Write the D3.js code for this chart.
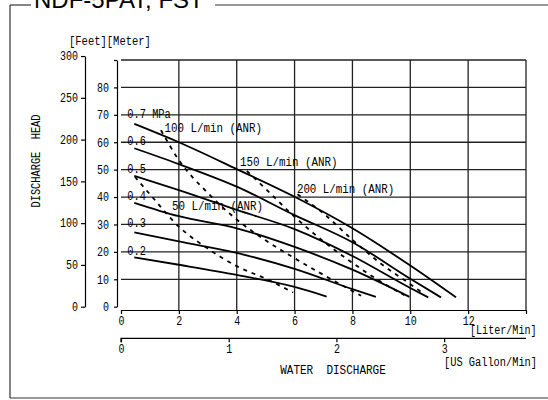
<!DOCTYPE html>
<html>
<head>
<meta charset="utf-8">
<script src="https://cdn.jsdelivr.net/npm/d3@7"></script>
<style>
  html, body { margin: 0; padding: 0; background: #fff; }
  svg { display: block; }
  text { font-family: "Liberation Mono", "DejaVu Sans Mono", monospace; fill: #000; white-space: pre; }
</style>
</head>
<body>
<svg id="chart"></svg>
<script>
// ---- pump curve data (flow L/min, head m) ----
var pressureNames = ["0.7 MPa", "0.6", "0.5", "0.4", "0.3", "0.2"];
var pressureHeads = [70, 60, 50, 40, 30, 20];

var flow07 = [0.46, 2, 4, 6, 8, 10, 11.58];
var head07 = [66.7, 60.0, 50.2, 40.1, 28.6, 15.0, 3.4];
var flow06 = [0.46, 2, 4, 6, 8, 10, 11.06];
var head06 = [57.8, 52.0, 43.8, 33.4, 23.5, 10.2, 3.4];
var flow05 = [0.46, 2, 4, 6, 8, 10, 10.62];
var head05 = [47.7, 42.5, 35.3, 28.3, 18.5, 6.8, 3.4];
var flow04 = [0.46, 2, 4, 6, 8, 9.97];
var head04 = [37.9, 33.0, 28.6, 21.8, 13.5, 3.6];
var flow03 = [0.46, 2, 4, 6, 8, 8.81];
var head03 = [27.1, 23.8, 19.6, 13.8, 6.4, 3.6];
var flow02 = [0.46, 2, 4, 6, 7.11];
var head02 = [18.0, 15.3, 11.6, 7.2, 3.7];

// air consumption (dashed)
var airNames = ["50 L/min (ANR)", "100 L/min (ANR)", "150 L/min (ANR)", "200 L/min (ANR)"];
var flowAir50 = [0.48, 1, 2, 3, 4, 5, 5.95];
var headAir50 = [47.4, 41.0, 29.2, 21.2, 14.8, 10.2, 5.2];
var flowAir100 = [1.38, 2, 3, 4, 5, 6, 7, 8.3];
var headAir100 = [64.4, 53.5, 41.5, 31.8, 24.2, 17.7, 11.6, 4.0];
var flowAir150 = [4.35, 5, 6, 7, 8, 9, 9.8];
var headAir150 = [49.5, 43.0, 32.8, 23.8, 16.0, 9.0, 4.2];
var flowAir200 = [6.1, 7, 8, 9, 10, 10.5];
var headAir200 = [41.0, 34.0, 24.4, 15.6, 8.2, 4.5];

// axis ticks
var literTicks = [0, 2, 4, 6, 8, 10, 12, 14];
var meterTicks = [0, 10, 20, 30, 40, 50, 60, 70, 80, 90];
var feetTicks = [0, 50, 100, 150, 200, 250, 300];
var gallonTicks = [0, 1, 2, 3];

var width = 548,
    height = 400;

var svg = d3.select("#chart").attr("width", width).attr("height", height);

// scales
var x = d3.scaleLinear().domain([0, 14]).range([121, 526]);
var y = d3.scaleLinear().domain([0, 90]).range([306.7, 60]);
var yFt = d3.scaleLinear().domain([0, 300]).range([y(0), y(300 / 3.2808)]);
var xGal = d3.scaleLinear().domain([0, 3.76]).range([121, 526]);

// squeeze monospace text so it looks like the narrow original font
function fit(sel, cw) {
  sel.each(function () {
    var t = d3.select(this);
    var s = t.text();
    if (s) t.attr("textLength", s.length * cw).attr("lengthAdjust", "spacingAndGlyphs");
  });
}

function label(txt, px, py, anchor, cw, size) {
  var t = svg.append("text")
    .attr("x", px).attr("y", py)
    .attr("text-anchor", anchor || "start")
    .attr("dominant-baseline", "central")
    .style("font-size", (size || 12) + "px")
    .text(txt);
  fit(t, cw || 6.2);
  return t;
}

// frame + title
var frame = svg.append("g").attr("stroke", "#333").attr("stroke-width", 1.2);
frame.append("line").attr("x1", 10).attr("y1", 5).attr("x2", 10).attr("y2", 398);
frame.append("line").attr("x1", 10).attr("y1", 398).attr("x2", width).attr("y2", 398);
frame.append("line").attr("x1", 10).attr("y1", 5).attr("x2", 31).attr("y2", 5);
frame.append("line").attr("x1", 215).attr("y1", 5).attr("x2", width).attr("y2", 5);

svg.append("text")
  .attr("x", 34).attr("y", 8)
  .style("font-family", "'Liberation Sans', Arial, sans-serif")
  .style("font-size", "24px")
  .text("NDF-5PAT, FST");

// grid
var grid = svg.append("g").attr("stroke", "#222").attr("stroke-width", 1.3);
grid.selectAll("line.v")
  .data(literTicks.filter(d => d > 0))
  .enter().append("line")
    .attr("x1", d => x(d)).attr("x2", d => x(d))
    .attr("y1", y(90)).attr("y2", 310);
grid.selectAll("line.h")
  .data(meterTicks.filter(d => d > 0))
  .enter().append("line")
    .attr("x1", x(0)).attr("x2", x(14))
    .attr("y1", d => y(d)).attr("y2", d => y(d));

// axes
function styleAxis(g, cw) {
  g.select(".domain").attr("stroke", "#000").attr("stroke-width", 1.2);
  g.selectAll(".tick line").attr("stroke", "#000").attr("stroke-width", 1.2);
  g.selectAll(".tick text").style("font-family", "'Liberation Mono', monospace").style("font-size", "12px");
  fit(g.selectAll(".tick text"), cw);
}

var feetAxis = svg.append("g")
  .attr("transform", "translate(85,0)")
  .call(d3.axisLeft(yFt).tickValues(feetTicks).tickSize(4).tickSizeOuter(0));
styleAxis(feetAxis, 6);

var meterAxis = svg.append("g")
  .attr("transform", "translate(117,0)")
  .call(d3.axisLeft(y).tickValues(meterTicks).tickSize(3).tickSizeOuter(0).tickPadding(5)
    .tickFormat(d => d === 90 ? "" : d));
styleAxis(meterAxis, 6);

var literAxis = svg.append("g")
  .attr("transform", "translate(0,310)")
  .call(d3.axisBottom(x).tickValues(literTicks).tickSize(4).tickSizeOuter(0).tickPadding(2)
    .tickFormat(d => d === 14 ? "" : d));
styleAxis(literAxis, 6);

var galAxis = svg.append("g")
  .attr("transform", "translate(0,338.3)")
  .call(d3.axisBottom(xGal).tickValues(gallonTicks).tickSize(4).tickSizeOuter(0).tickPadding(2)
    .tickFormat(d3.format("d")));
galAxis.select(".domain").attr("d", "M" + x(0) + ",4V0H" + x(14));
styleAxis(galAxis, 6);

// curves
var line = d3.line()
  .x(d => x(d[0]))
  .y(d => y(d[1]))
  .curve(d3.curveMonotoneX);

var pressureCurves = [
  d3.zip(flow07, head07), d3.zip(flow06, head06), d3.zip(flow05, head05),
  d3.zip(flow04, head04), d3.zip(flow03, head03), d3.zip(flow02, head02)
];
var airCurves = [
  d3.zip(flowAir50, headAir50), d3.zip(flowAir100, headAir100),
  d3.zip(flowAir150, headAir150), d3.zip(flowAir200, headAir200)
];

svg.append("g").selectAll("path")
  .data(pressureCurves)
  .enter().append("path")
    .attr("d", line)
    .attr("fill", "none")
    .attr("stroke", "#000")
    .attr("stroke-width", 1.8);

svg.append("g").selectAll("path")
  .data(airCurves)
  .enter().append("path")
    .attr("d", line)
    .attr("fill", "none")
    .attr("stroke", "#000")
    .attr("stroke-width", 1.8)
    .attr("stroke-dasharray", "4,5");

// pressure labels sit on their grid line
pressureNames.forEach(function (name, i) {
  label(name, x(0.22), y(pressureHeads[i]), "start", 6.2);
});

// air consumption labels
var airLabelAt = [[1.76, 36.2], [1.5, 65.0], [4.11, 52.6], [6.08, 42.6]];
airNames.forEach(function (name, i) {
  label(name, x(airLabelAt[i][0]), y(airLabelAt[i][1]), "start", 6.5);
});

// axis titles
label("[Feet][Meter]", 69, 42, "start", 6.3);
label("[Liter/Min]", 470, 331, "start", 6.05);
label("[US Gallon/Min]", 444, 363, "start", 6.2);
label("WATER  DISCHARGE", 333, 371, "middle", 6.6);
label("DISCHARGE  HEAD", 0, 0, "middle", 6.2)
  .attr("transform", "translate(37,161) rotate(-90)");
</script>
</body>
</html>
